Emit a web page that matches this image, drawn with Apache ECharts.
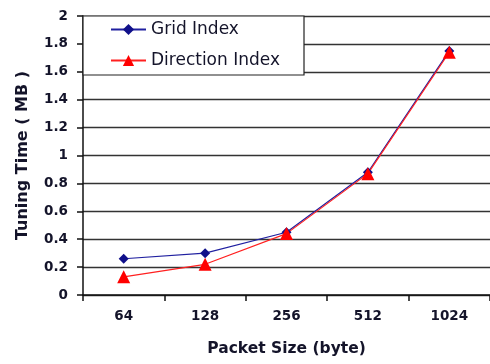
<!DOCTYPE html>
<html>
<head>
<meta charset="utf-8">
<script src="https://cdn.jsdelivr.net/npm/echarts@6/dist/echarts.min.js"></script>
<style>
  html, body { margin: 0; padding: 0; background: #fff; }
  #chart { width: 490px; height: 364px; }
</style>
</head>
<body>
<div id="chart"></div>
<script>
// Packet sizes (bytes) along the x axis
const packetSizes = ['64', '128', '256', '512', '1024'];
// Tuning time in MB for each index
const gridIndex = [0.26, 0.30, 0.45, 0.88, 1.75];
const directionIndex = [0.13, 0.22, 0.44, 0.87, 1.74];

const font = '"DejaVu Sans", Verdana, sans-serif';
const textColor = '#14142a';

const chart = echarts.init(document.getElementById('chart'), null, { renderer: 'canvas' });
chart.setOption({
  animation: false,
  backgroundColor: '#fff',
  grid: { left: 83, top: 16, width: 416, height: 279, containLabel: false },
  legend: {
    left: 83, top: 16,
    orient: 'vertical',
    itemWidth: 35, itemHeight: 14, itemGap: 14,
    padding: [5, 24, 6, 27],
    backgroundColor: '#fff',
    borderColor: '#222', borderWidth: 1.2, borderRadius: 0,
    textStyle: { fontFamily: font, fontSize: 17, lineHeight: 14, color: textColor },
    data: ['Grid Index', 'Direction Index']
  },
  xAxis: {
    type: 'category',
    data: packetSizes,
    boundaryGap: true,
    name: 'Packet Size (byte)',
    nameLocation: 'middle',
    nameGap: 46,
    nameTextStyle: { fontFamily: font, fontSize: 15.5, fontWeight: 'bold', color: textColor },
    axisLine: { lineStyle: { color: '#111', width: 1.5 } },
    axisTick: { show: true, alignWithLabel: false, length: 6, lineStyle: { color: '#111', width: 1.5 } },
    axisLabel: { fontFamily: font, fontSize: 13.5, fontWeight: 'bold', color: textColor, margin: 14 },
    splitLine: { show: false }
  },
  yAxis: {
    type: 'value',
    min: 0, max: 2, interval: 0.2,
    name: 'Tuning Time ( MB )',
    nameLocation: 'middle',
    nameGap: 52,
    nameTextStyle: { fontFamily: font, fontSize: 16, fontWeight: 'bold', color: textColor },
    axisLine: { show: true, lineStyle: { color: '#111', width: 1.5 } },
    axisTick: { show: true, length: 6, lineStyle: { color: '#111', width: 1.5 } },
    axisLabel: {
      fontFamily: font, fontSize: 13.5, fontWeight: 'bold', color: textColor, margin: 15,
      formatter: v => String(Math.round(v * 10) / 10)
    },
    splitLine: { show: true, lineStyle: { color: '#333', width: 1.4 } }
  },
  series: [
    {
      name: 'Grid Index',
      type: 'line',
      data: gridIndex,
      symbol: 'diamond',
      symbolSize: 10,
      color: '#10108a',
      lineStyle: { color: '#2020a0', width: 1.2 },
      itemStyle: { color: '#10108a' }
    },
    {
      name: 'Direction Index',
      type: 'line',
      data: directionIndex,
      symbol: 'triangle',
      symbolSize: 13,
      color: '#ff0000',
      lineStyle: { color: '#ff2020', width: 1.2 },
      itemStyle: { color: '#ff0000' }
    }
  ]
});
</script>
</body>
</html>
